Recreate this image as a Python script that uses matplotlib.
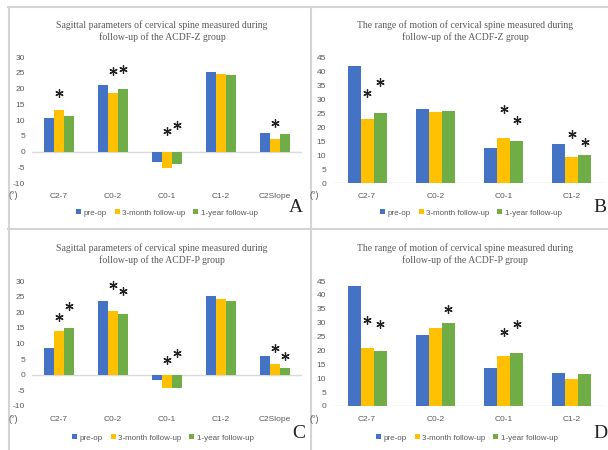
import numpy as np
import matplotlib.pyplot as plt
from matplotlib.lines import Line2D

plt.rcParams['axes.unicode_minus'] = False

# ---- data ----
cats_sag = ['C2-7', 'C0-2', 'C0-1', 'C1-2', 'C2Slope']
cats_rom = ['C2-7', 'C0-2', 'C0-1', 'C1-2']
series = ['pre-op', '3-month follow-up', '1-year follow-up']
colors = ['#4472C4', '#FFC000', '#70AD47']

# panel A: sagittal, ACDF-Z
a_pre = [10.6, 21.0, -3.2, 25.1, 5.9]
a_3m = [13.1, 18.7, -5.3, 24.6, 4.1]
a_1y = [11.2, 19.8, -3.9, 24.3, 5.4]
# star marks: (category index, series index, height)
a_stars = [(0, 1, 18.6), (1, 1, 25.4), (1, 2, 26.3), (2, 1, 6.4), (2, 2, 8.5), (4, 1, 9.0)]

# panel B: ROM, ACDF-Z
b_pre = [41.9, 26.4, 12.4, 13.8]
b_3m = [22.7, 25.2, 16.1, 9.3]
b_1y = [25.0, 25.6, 15.1, 10.1]
b_stars = [(0, 1, 32.1), (0, 2, 36.1), (2, 1, 26.4), (2, 2, 22.6), (3, 1, 17.6), (3, 2, 14.5)]

# panel C: sagittal, ACDF-P
c_pre = [8.7, 23.6, -1.6, 25.3, 5.9]
c_3m = [13.9, 20.4, -4.3, 24.2, 3.4]
c_1y = [14.9, 19.5, -4.3, 23.7, 2.1]
c_stars = [(0, 1, 18.5), (0, 2, 22.0), (1, 1, 28.7), (1, 2, 26.8), (2, 1, 4.8), (2, 2, 7.1),
           (4, 1, 8.7), (4, 2, 5.9)]

# panel D: ROM, ACDF-P
d_pre = [43.2, 25.6, 13.6, 11.8]
d_3m = [20.9, 28.1, 18.1, 9.7]
d_1y = [19.9, 30.0, 19.0, 11.5]
d_stars = [(0, 1, 31.0), (0, 2, 29.5), (1, 2, 34.9), (2, 1, 26.8), (2, 2, 29.4)]

title_sag = 'Sagittal parameters of cervical spine measured during\nfollow-up of the ACDF-{} group'
title_rom = 'The range of motion of cervical spine measured during\nfollow-up of the ACDF-{} group'

W, H = 608, 450
fig = plt.figure(figsize=(6.08, 4.5), dpi=100)
fig.patch.set_facecolor('white')

sans = 'Liberation Sans'
serif = 'Liberation Serif'
bw = 0.19


def px(x0, y0, x1, y1):
    # pixel box -> figure fraction [left, bottom, width, height]
    return [x0 / W, 1 - y1 / H, (x1 - x0) / W, (y1 - y0) / H]


def panel(box, cats, vals, stars, ylim, step, title, title_x, title_y, legend_x, legend_y,
          letter, letter_x, letter_y, deg_x):
    ax = fig.add_axes(px(*box))
    x = np.arange(len(cats))
    for i, (v, c, lab) in enumerate(zip(vals, colors, series)):
        ax.bar(x + (i - 1) * bw, v, bw, color=c, label=lab, zorder=2)
    for ci, si, h in stars:
        ax.plot(ci + (si - 1) * bw, h, marker=(6, 2, 0), ms=6, mew=0.9, color='#222222', zorder=3)
    ax.axhline(0, color='#d9d9d9', lw=1, zorder=1)
    ax.set_xlim(-0.5, len(cats) - 0.5)
    ax.set_ylim(*ylim)
    ax.set_yticks(np.arange(ylim[0], ylim[1] + 1, step))
    ax.set_xticks(x)
    ax.set_xticklabels(cats)
    for s in ax.spines.values():
        s.set_visible(False)
    ax.tick_params(length=0, labelsize=6, colors='#595959', labelfontfamily=sans)
    ax.tick_params(axis='x', pad=7)
    ax.tick_params(axis='y', pad=5)
    fig.text(title_x / W, 1 - title_y / H, title, ha='center', va='center',
             family=serif, fontsize=7, color='#595959', linespacing=1.25)
    fig.text(deg_x / W, 1 - (box[3] + 13) / H, '(°)', ha='center', va='center',
             family=sans, fontsize=6.5, color='#595959')
    h, l = ax.get_legend_handles_labels()
    fig.legend(h, l, loc='center', bbox_to_anchor=(legend_x / W, 1 - legend_y / H), ncol=3,
               frameon=False, prop={'family': sans, 'size': 5.8}, handlelength=0.6,
               handleheight=0.6, handletextpad=0.3, columnspacing=1.0, labelcolor='#595959')
    fig.text(letter_x / W, 1 - letter_y / H, letter, ha='center', va='center',
             family=serif, fontsize=14, color='#222222')
    return ax


panel((32, 57, 302, 183), cats_sag, [a_pre, a_3m, a_1y], a_stars, (-10, 30), 5,
      title_sag.format('Z'), 162, 31, 167, 213, 'A', 296, 208, 13)
panel((333, 57, 606, 183), cats_rom, [b_pre, b_3m, b_1y], b_stars, (0, 45), 5,
      title_rom.format('Z'), 465, 31, 471, 213, 'B', 600, 208, 314)
panel((32, 281, 302, 406), cats_sag, [c_pre, c_3m, c_1y], c_stars, (-10, 30), 5,
      title_sag.format('P'), 162, 254, 163, 438, 'C', 299, 433, 13)
panel((333, 281, 606, 406), cats_rom, [d_pre, d_3m, d_1y], d_stars, (0, 45), 5,
      title_rom.format('P'), 465, 254, 467, 438, 'D', 600, 433, 314)

# panel frame lines
lc = '#d4d4d4'
for (x0, y0, x1, y1) in [(8, 7, 608, 7), (8, 229, 608, 229), (9, 7, 9, 450), (311, 7, 311, 450)]:
    fig.add_artist(Line2D([x0 / W, x1 / W], [1 - y0 / H, 1 - y1 / H], color=lc, lw=1.5,
                          transform=fig.transFigure))

fig.savefig('out.png', dpi=100)
